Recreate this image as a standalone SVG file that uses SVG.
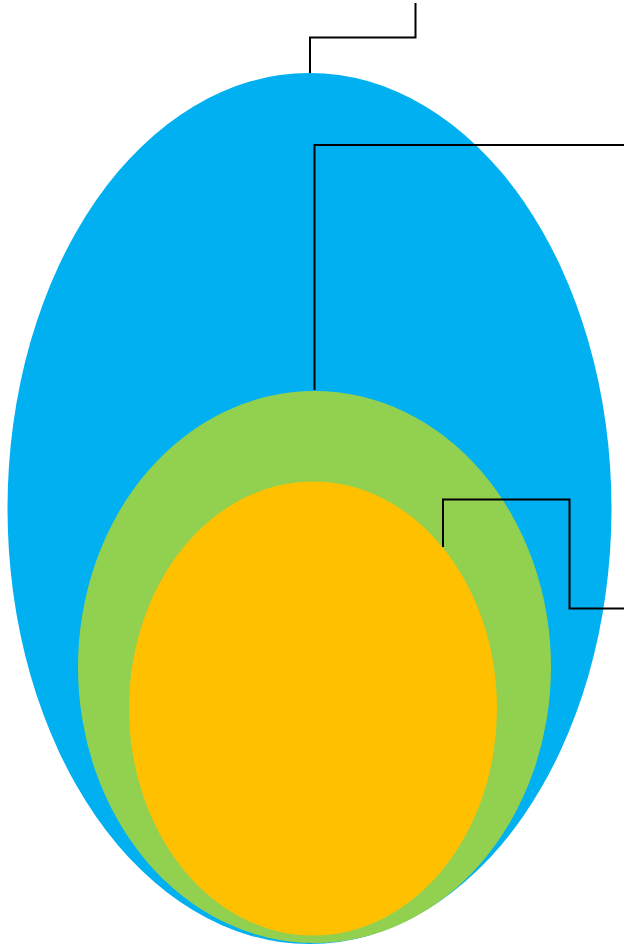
<svg xmlns="http://www.w3.org/2000/svg" width="624" height="944" viewBox="0 0 624 944">
<style>
.c{fill:none;stroke:#000;stroke-width:2}
</style>
<rect width="624" height="944" fill="#fff"/>
<g id="outer"><ellipse cx="309.5" cy="508.5" rx="302" ry="435.5" fill="#00B0F0"/></g>
<g id="middle"><ellipse cx="314.5" cy="667" rx="236.5" ry="276" fill="#92D050"/></g>
<g id="inner"><ellipse cx="313" cy="708.5" rx="184" ry="227" fill="#FFC000"/></g>
<g id="connectors">
<polyline class="c" points="415.5,3 415.5,37.5 310,37.5 310,73"/>
<polyline class="c" points="624,145 314.5,145 314.5,390"/>
<polyline class="c" points="443,547 443,499.5 569.5,499.5 569.5,608.5 624,608.5"/>
</g>
</svg>
